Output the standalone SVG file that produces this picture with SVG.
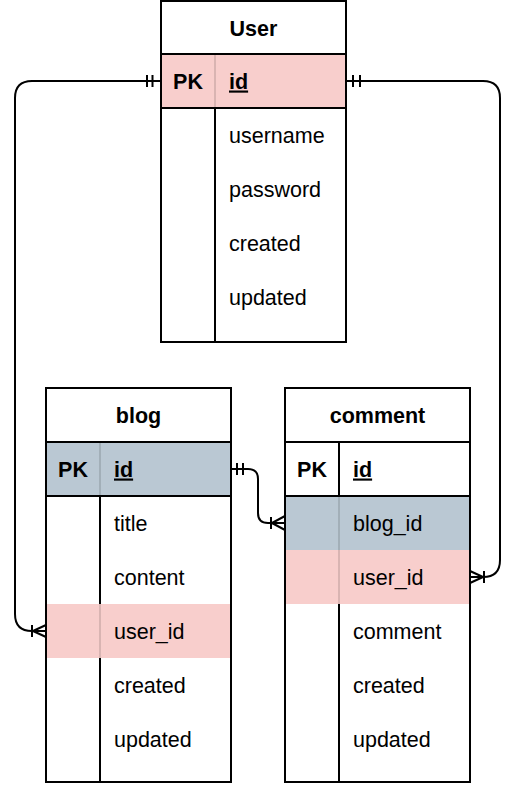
<svg xmlns="http://www.w3.org/2000/svg" width="519" height="785" viewBox="0 0 519 785">
<style>
.t{font-family:"Liberation Sans",Arial,sans-serif;font-size:21.5px;fill:#000}
.b{font-weight:bold}
.c{text-anchor:middle}
.u{text-decoration:underline}
.ln{stroke:#000;stroke-width:2;fill:none}
.fd{stroke:#000;stroke-width:1;stroke-opacity:0.25;fill:none}
.pink{fill:#f8cecc}
.blue{fill:#bac8d3}
.con{stroke:#000;stroke-width:2;fill:none}
</style>
<rect width="519" height="785" fill="#fff"/>
<g id="user">
<rect x="161" y="1" width="185" height="341" fill="#fff"/>
<rect class="pink" x="161" y="54" width="185" height="54"/>
<line class="fd" x1="215" y1="54" x2="215" y2="108"/>
<line class="ln" x1="215" y1="108" x2="215" y2="342"/>
<line class="ln" x1="161" y1="54" x2="346" y2="54"/>
<line class="ln" x1="161" y1="108" x2="346" y2="108"/>
<rect class="ln" x="161" y="1" width="185" height="341"/>
<text class="t b c" x="253.5" y="35.5">User</text>
<text class="t b c" x="188" y="88.5">PK</text>
<text class="t b u" x="229" y="88.5">id</text>
<text class="t" x="229" y="142.5">username</text>
<text class="t" x="229" y="196.5">password</text>
<text class="t" x="229" y="250.5">created</text>
<text class="t" x="229" y="304.5">updated</text>
</g>
<g id="blog">
<rect x="46" y="388" width="185" height="394" fill="#fff"/>
<rect class="blue" x="46" y="442" width="185" height="54"/>
<rect class="pink" x="46" y="604" width="185" height="54"/>
<line class="fd" x1="100" y1="442" x2="100" y2="496"/>
<line class="fd" x1="100" y1="604" x2="100" y2="658"/>
<line class="ln" x1="100" y1="496" x2="100" y2="604"/>
<line class="ln" x1="100" y1="658" x2="100" y2="782"/>
<line class="ln" x1="46" y1="442" x2="231" y2="442"/>
<line class="ln" x1="46" y1="496" x2="231" y2="496"/>
<rect class="ln" x="46" y="388" width="185" height="394"/>
<text class="t b c" x="138.5" y="422.5">blog</text>
<text class="t b c" x="73" y="476.5">PK</text>
<text class="t b u" x="114" y="476.5">id</text>
<text class="t" x="114" y="530.5">title</text>
<text class="t" x="114" y="584.5">content</text>
<text class="t" x="114" y="638.5">user_id</text>
<text class="t" x="114" y="692.5">created</text>
<text class="t" x="114" y="746.5">updated</text>
</g>
<g id="comment">
<rect x="285" y="388" width="185" height="394" fill="#fff"/>
<rect class="blue" x="285" y="496" width="185" height="54"/>
<rect class="pink" x="285" y="550" width="185" height="54"/>
<line class="fd" x1="339" y1="496" x2="339" y2="604"/>
<line class="ln" x1="339" y1="442" x2="339" y2="496"/>
<line class="ln" x1="339" y1="604" x2="339" y2="782"/>
<line class="ln" x1="285" y1="442" x2="470" y2="442"/>
<line class="ln" x1="285" y1="496" x2="470" y2="496"/>
<rect class="ln" x="285" y="388" width="185" height="394"/>
<text class="t b c" x="377.5" y="422.5">comment</text>
<text class="t b c" x="312" y="476.5">PK</text>
<text class="t b u" x="353" y="476.5">id</text>
<text class="t" x="353" y="530.5">blog_id</text>
<text class="t" x="353" y="584.5">user_id</text>
<text class="t" x="353" y="638.5">comment</text>
<text class="t" x="353" y="692.5">created</text>
<text class="t" x="353" y="746.5">updated</text>
</g>
<g id="connectors">
<g id="user-blog">
<path class="con" d="M161,81 H32 Q15,81 15,98 V614 Q15,631 32,631 H46"/>
<path class="con" d="M147,75 V87 M152.5,75 V87"/>
<path class="con" d="M32,625 V637 M33,631 L46,625 M33,631 L46,637 M33,631 H46"/>
</g>
<g id="user-comment">
<path class="con" d="M346,81 H483 Q500,81 500,98 V560 Q500,577 483,577 H470"/>
<path class="con" d="M353,75 V87 M360,75 V87"/>
<path class="con" d="M484,571 V583 M483,577 L470,571 M483,577 L470,583 M483,577 H470"/>
</g>
<g id="blog-comment">
<path class="con" d="M231,469 H248 Q258,469 258,479 V513 Q258,523 268,523 H285"/>
<path class="con" d="M237,463 V475 M243,463 V475"/>
<path class="con" d="M271,517 V529 M272,523 L285,516 M272,523 L285,530"/>
</g>
</g>
</svg>
